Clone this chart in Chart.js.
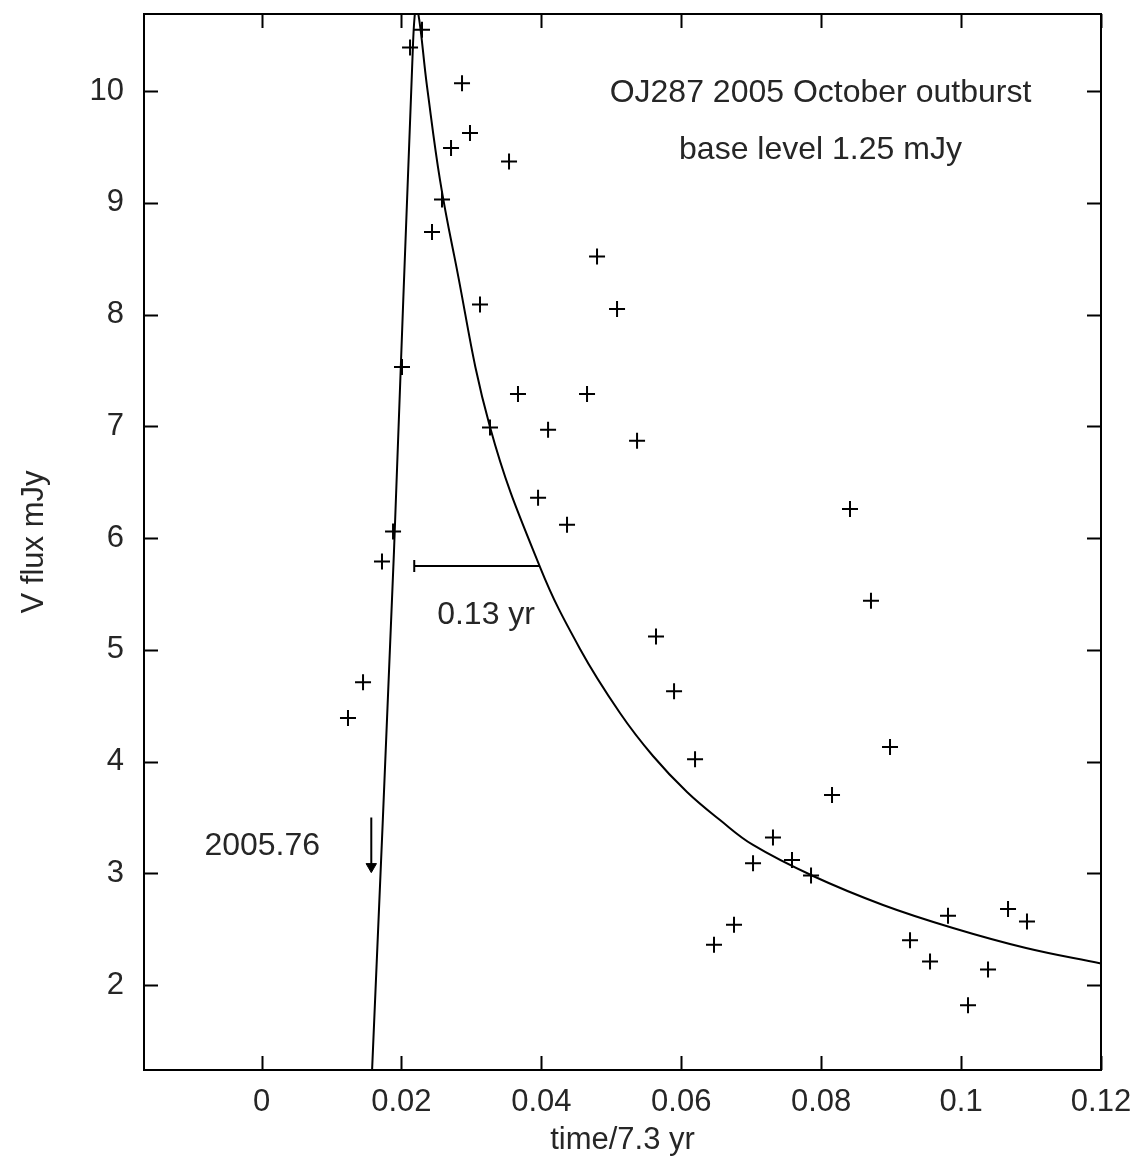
<!DOCTYPE html>
<html>
<head>
<meta charset="utf-8">
<script src="https://cdn.jsdelivr.net/npm/chart.js@4.4.1/dist/chart.umd.min.js"></script>
<style>
  body { margin: 0; background: #fff; }
  #wrap { width: 1146px; height: 1175px; }
</style>
</head>
<body>
<div id="wrap"><canvas id="myChart"></canvas></div>
<script>
// observed V flux (crosses)
var obsTime = [0.01236, 0.01451, 0.01722, 0.0188, 0.02008, 0.02123, 0.02294, 0.02437, 0.0258, 0.02709,
    0.02866, 0.0298, 0.03123, 0.03266, 0.03538, 0.03666, 0.03953, 0.04096, 0.04367, 0.04653,
    0.04796, 0.05082, 0.05368, 0.05639, 0.05897, 0.06197, 0.06468, 0.06754, 0.07026, 0.07311,
    0.07583, 0.07855, 0.08155, 0.08412, 0.08712, 0.08984, 0.0927, 0.09556, 0.09813, 0.10099,
    0.10385, 0.10671, 0.10942];
var obsFlux = [4.39, 4.71, 5.79, 6.06, 7.53, 10.39, 10.55, 8.74, 9.03, 9.49,
    10.07, 9.625, 8.09, 6.99, 9.37, 7.29, 6.36, 6.97, 6.12, 7.29,
    8.52, 8.05, 6.87, 5.12, 4.63, 4.02, 2.36, 2.54, 3.09, 3.32,
    3.12, 2.98, 3.70, 6.26, 5.44, 4.13, 2.40, 2.21, 2.62, 1.82,
    2.14, 2.68, 2.57];

// model light curve
var modelTime = [0.01564, 0.01894, 0.02166, 0.0222, 0.02366, 0.02551, 0.02752, 0.03266, 0.03981, 0.04553,
    0.05124, 0.05596, 0.06082, 0.06554, 0.07026, 0.07884, 0.08884, 0.09884, 0.10928, 0.12];
var modelFlux = [1.0, 5.89, 10.43, 10.75, 10.04, 9.205, 8.534, 6.994, 5.741, 5.008,
    4.435, 4.05, 3.728, 3.477, 3.254, 2.976, 2.717, 2.511, 2.332, 2.193];

// 0.13 yr bar and 2005.76 arrow
var barTime = [0.02183, 0.03981];
var barFlux = [5.75, 5.75];
var arrowTime = [0.01569, 0.01569];
var arrowFlux = [3.50, 3.06];

var xTicks = [0, 0.02, 0.04, 0.06, 0.08, 0.1, 0.12];
var xTickLabels = ['0', '0.02', '0.04', '0.06', '0.08', '0.1', '0.12'];
var yTicks = [2, 3, 4, 5, 6, 7, 8, 9, 10];

var noteText = ['OJ287 2005 October outburst', 'base level 1.25 mJy', '0.13 yr', '2005.76'];
var noteX = [0.0799, 0.0799, 0.0321, 0.0001];
var noteY = [9.98, 9.47, 5.31, 3.24];

var fontFamily = '"Liberation Sans", Arial, sans-serif';
var ink = '#000';
var textInk = '#262626';

function pairs(xs, ys) {
    return xs.map(function (v, i) { return {x: v, y: ys[i]}; });
}

// box, inward ticks and the text notes
var framePlugin = {
    id: 'frame',
    afterDraw: function (chart) {
        var ctx = chart.ctx;
        var a = chart.chartArea;
        var x = chart.scales.x, y = chart.scales.y;
        ctx.save();
        ctx.strokeStyle = ink;
        ctx.lineWidth = 2;
        ctx.strokeRect(a.left, a.top, a.right - a.left, a.bottom - a.top);
        ctx.beginPath();
        x.ticks.forEach(function (t) {
            var px = Math.round(x.getPixelForValue(t.value)) + 0.5;
            ctx.moveTo(px, a.bottom); ctx.lineTo(px, a.bottom - 14);
            ctx.moveTo(px, a.top); ctx.lineTo(px, a.top + 14);
        });
        y.ticks.forEach(function (t) {
            var py = Math.round(y.getPixelForValue(t.value)) + 0.5;
            ctx.moveTo(a.left, py); ctx.lineTo(a.left + 14, py);
            ctx.moveTo(a.right, py); ctx.lineTo(a.right - 14, py);
        });
        ctx.stroke();

        ctx.fillStyle = textInk;
        ctx.font = '32px ' + fontFamily;
        ctx.textAlign = 'center';
        ctx.textBaseline = 'middle';
        noteText.forEach(function (s, i) {
            ctx.fillText(s, x.getPixelForValue(noteX[i]), y.getPixelForValue(noteY[i]));
        });
        ctx.restore();
    }
};

var ctx = document.getElementById('myChart').getContext('2d');
var chart = new Chart(ctx, {
    type: 'scatter',
    data: {
        datasets: [{
            label: 'model',
            data: pairs(modelTime, modelFlux),
            showLine: true,
            borderColor: ink,
            borderWidth: 2,
            pointRadius: 0,
            tension: 0.4
        }, {
            label: 'V flux',
            data: pairs(obsTime, obsFlux),
            pointStyle: 'cross',
            pointRadius: 8,
            borderColor: ink,
            borderWidth: 2
        }, {
            label: 'bar',
            data: pairs(barTime, barFlux),
            showLine: true,
            borderColor: ink,
            borderWidth: 2,
            pointStyle: 'line',
            rotation: 90,
            pointRadius: [6, 0],
            pointBorderWidth: 2
        }, {
            label: 'arrow',
            data: pairs(arrowTime, arrowFlux),
            showLine: true,
            borderColor: ink,
            borderWidth: 2,
            backgroundColor: ink,
            pointStyle: 'triangle',
            rotation: 180,
            pointRadius: [0, 6],
            pointBorderWidth: 1
        }]
    },
    options: {
        responsive: true,
        maintainAspectRatio: false,
        animation: false,
        layout: { padding: { top: 14, right: 45, left: 0, bottom: 0 } },
        plugins: {
            legend: { display: false },
            tooltip: { enabled: false }
        },
        scales: {
            x: {
                type: 'linear',
                min: -0.0168,
                max: 0.12,
                grid: { display: false, drawTicks: false },
                border: { display: false },
                afterBuildTicks: function (scale) {
                    scale.ticks = xTicks.map(function (v) { return {value: v}; });
                },
                afterFit: function (scale) {
                    scale.height = 105;
                    scale.paddingLeft = 0;
                    scale.paddingRight = 0;
                },
                ticks: {
                    padding: 14,
                    maxRotation: 0,
                    color: textInk,
                    font: { family: fontFamily, size: 31 },
                    callback: function (v) { return xTickLabels[xTicks.indexOf(v)]; }
                },
                title: {
                    display: true,
                    text: 'time/7.3 yr',
                    color: textInk,
                    font: { family: fontFamily, size: 31 },
                    padding: { top: 0, bottom: 16 }
                }
            },
            y: {
                type: 'linear',
                min: 1.24,
                max: 10.69,
                grid: { display: false, drawTicks: false },
                border: { display: false },
                afterBuildTicks: function (scale) {
                    scale.ticks = yTicks.map(function (v) { return {value: v}; });
                },
                afterFit: function (scale) {
                    scale.width = 144;
                    scale.paddingTop = 0;
                    scale.paddingBottom = 0;
                },
                ticks: {
                    padding: 20,
                    color: textInk,
                    font: { family: fontFamily, size: 31 }
                },
                title: {
                    display: true,
                    text: 'V flux mJy',
                    color: textInk,
                    font: { family: fontFamily, size: 31 },
                    padding: { top: 16, bottom: 0 }
                }
            }
        }
    },
    plugins: [framePlugin]
});
</script>
</body>
</html>
